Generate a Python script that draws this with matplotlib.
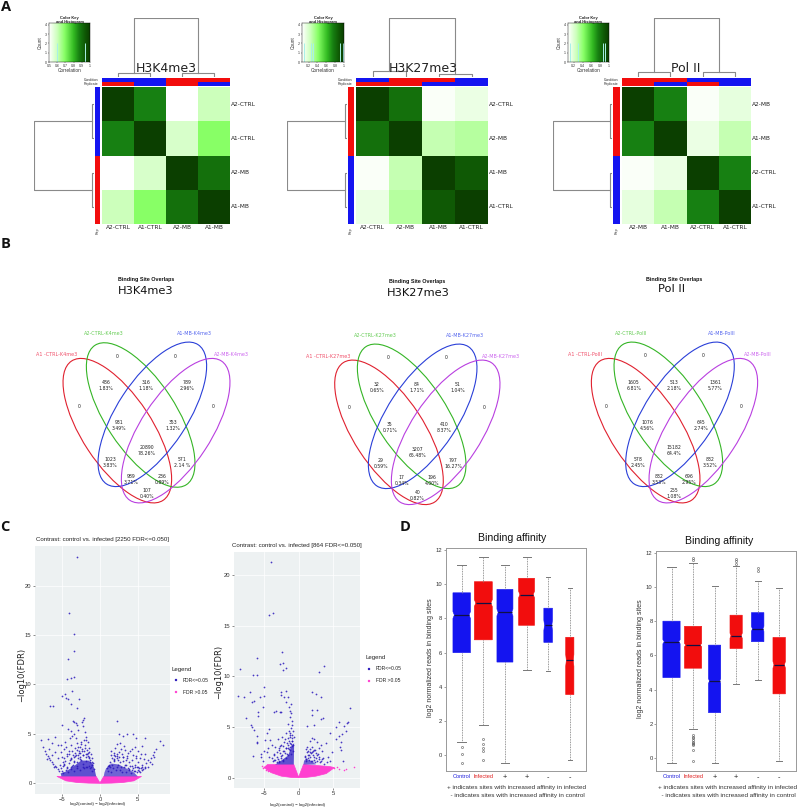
import matplotlib
matplotlib.use("Agg")
import numpy as np
import matplotlib.pyplot as plt
from matplotlib import font_manager as fm
from matplotlib.colors import LinearSegmentedColormap, ListedColormap
from matplotlib.patches import Ellipse

W, H = 798, 808
BLUE, RED = "#1414f0", "#f20d0d"

# ---------- A: heatmaps ----------
heat_names = [
    ["A2-CTRL", "A1-CTRL", "A2-MB", "A1-MB"],
    ["A2-CTRL", "A2-MB", "A1-MB", "A1-CTRL"],
    ["A2-MB", "A1-MB", "A2-CTRL", "A1-CTRL"],
]
heat_h3k4 = [[1.00, 0.87, 0.50, 0.60], [0.87, 1.00, 0.58, 0.69], [0.50, 0.58, 1.00, 0.90], [0.60, 0.69, 0.90, 1.00]]
heat_h3k27 = [[1.00, 0.90, 0.51, 0.54], [0.90, 1.00, 0.61, 0.63], [0.51, 0.61, 1.00, 0.94], [0.54, 0.63, 0.94, 1.00]]
heat_pol2 = [[1.00, 0.87, 0.51, 0.55], [0.87, 1.00, 0.54, 0.61], [0.51, 0.54, 1.00, 0.87], [0.55, 0.61, 0.87, 1.00]]
heat_titles = ["H3K4me3", "H3K27me3", "Pol II"]
col_condition = [[0, 0, 1, 1], [0, 1, 1, 0], [1, 1, 0, 0]]
col_replicate = [[1, 0, 1, 0], [1, 1, 0, 0], [1, 0, 1, 0]]
row_side = [[0, 0, 1, 1], [1, 1, 0, 0], [1, 1, 0, 0]]
dendro_top_root = [1.0, 1.0, 1.0]
dendro_top_left = [0.06, 0.10, 0.08]
dendro_top_right = [0.06, 0.05, 0.08]
dendro_left_root = [1.0, 1.0, 1.0]
dendro_left_inner = [0.03, 0.03, 0.03]
key_lims = [(0.5, 1.0), (0.05, 1.0), (0.07, 1.0)]
key_ticks = [[0.5, 0.6, 0.7, 0.8, 0.9, 1], [0.2, 0.4, 0.6, 0.8, 1], [0.2, 0.4, 0.6, 0.8, 1]]
key_hist = [[0.60, 0.94], [0.10, 0.26, 0.30, 0.92, 0.97], [0.11, 0.29, 0.87, 0.92]]
key_counts = [2, 2, 2]

# ---------- B: venn diagrams ----------
venn_sets = [
    ["A1 -CTRL-K4me3", "A2-CTRL-K4me3", "A1-MB-K4me3", "A2-MB-K4me3"],
    ["A1 -CTRL-K27me3", "A2-CTRL-K27me3", "A1-MB-K27me3", "A2-MB-K27me3"],
    ["A1 -CTRL-PolII", "A2-CTRL-PolII", "A1-MB-PolII", "A2-MB-PolII"],
]
venn_counts = [
    [0, 0, 0, 0, 486, 316, 789, 931, 353, 20890, 1023, 571, 989, 236, 107],
    [0, 0, 0, 0, 32, 84, 51, 35, 410, 3207, 29, 797, 17, 196, 40],
    [0, 0, 0, 0, 1605, 513, 1361, 1076, 645, 15182, 578, 832, 832, 696, 255],
]
venn_pct = [
    ["", "", "", "", "1.83%", "1.18%", "2.96%", "3.49%", "1.32%", "78.26%", "3.83%", "2.14 %", "3.71%", "0.89%", "0.40%"],
    ["", "", "", "", "0.65%", "1.71%", "1.04%", "0.71%", "8.37%", "65.48%", "0.59%", "16.27%", "0.34%", "4.00%", "0.82%"],
    ["", "", "", "", "6.81%", "2.18%", "5.77%", "4.56%", "2.74%", "64.4%", "2.45%", "3.52%", "3.53%", "2.95%", "1.08%"],
]
venn_colors = ["#e0212f", "#35b526", "#2a3fd8", "#b93fe0"]
venn_label_colors = ["#f0506a", "#66cc55", "#5566ee", "#cc66ee"]

# ---------- C: volcano plots ----------
v1_blue_x = [-3.0, -4.05, -3.4, -3.4, -4.2, -3.5, -3.9, -4.4, -3.7, -4.6, -5.0, -4.5, -4.2, -2.8, -3.8, -6.6, -6.2, -3.0,
             -2.1, -2.3, -3.6, -3.4, -3.2, -2.4, 2.3, -5.0, -3.0, -7.8, -7.5, -7.3, -7.1, -6.9, -6.8, -6.6, -6.4, -6.2,
             -6.0, -5.8, -5.6, -5.4, -6.9, -6.3, -6.0, -5.5, -5.2, -5.0, -4.8, -4.6, -4.4, -4.2, -3.8, -3.5, -3.2, -2.9,
             -2.5, -2.2, -2.0, -1.8, -1.6, -1.5, -1.4, -2.0, -2.4, -2.8, -3.3, -3.8, -4.3, -4.9, -4.0, -3.0, -2.6, -1.9,
             -1.7, -1.2, -1.0, -5.6, -5.9, -6.4, -6.7, -7.0, -5.1, -4.7, -4.1, -3.6, -3.1, -2.7, -2.3, -1.3, -0.9, -4.5,
             -3.9, -3.4, -2.1, -5.3, -4.9, -6.1, -2.9, -3.7, -1.6, -1.1,
             2.2, 2.5, 3.0, 3.6, 4.4, 4.8, 6.0, 7.9, 8.3, 7.4, 7.2, 7.0, 6.7, 6.4, 6.1, 5.9, 5.5, 5.1, 4.7, 4.4, 4.0, 3.6,
             3.2, 2.9, 2.5, 2.2, 2.0, 1.8, 5.6, 5.2, 5.0, 4.6, 1.6, 1.3, 1.0, 3.4, 3.9, 4.2, 5.3, 5.8, 2.7, 1.5, 4.9, 6.3,
             3.1, 2.4, 1.9, 1.2, 0.9,
             -5.2, -4.8, -4.6, -4.4, -4.1, -3.9, -3.7, -3.5, -3.3, -3.1, -2.9, -2.7, -2.5, -2.3, -2.1, -1.9, -1.7, -1.5, -1.3, -1.1,
             -5.0, -4.7, -4.3, -4.0, -3.8, -3.6, -3.4, -3.2, -3.0, -2.8, -2.6, -2.4, -2.2, -2.0, -1.8, -1.6, -1.4, -1.2, -1.0, -0.8,
             -4.9, -4.5, -4.2, -3.9, -3.5, -3.1, -2.7, -2.3, -2.1, -1.9, -1.7, -1.5, -1.3, -1.1, -2.5, -2.9, -3.3, -3.7, -4.1, -1.9,
             1.0, 1.3, 1.6, 1.9, 2.2, 2.5, 2.8, 3.1, 3.4, 3.7, 4.0, 4.3, 4.6, 4.9, 5.2, 5.5, 1.2, 1.5, 1.8, 2.1,
             2.4, 2.7, 3.0, 3.3, 3.6, 3.9, 4.2, 4.5, 4.8, 5.1, 5.4, 5.7, 6.0, 1.4, 1.7, 2.0, 2.3, 2.6, 2.9, 3.2,
             3.5, 3.8, 4.1, 4.4, 4.7, 5.0, 5.3, 5.6, 6.6, 6.9, 7.1, 5.9, 3.7, 3.3, 2.8, 2.3, 1.8, 4.3, 4.8, 5.4]
v1_blue_y = [22.9, 17.2, 15.1, 13.4, 12.6, 10.75, 10.65, 10.6, 9.3, 9.0, 8.8, 8.6, 8.5, 8.5, 8.0, 7.85, 7.8, 7.6,
             6.6, 6.4, 6.3, 6.2, 6.1, 6.2, 6.3, 5.9, 5.9, 4.4, 3.7, 3.3, 3.0, 2.8, 2.6, 2.4, 2.2, 2.0,
             1.8, 1.6, 1.4, 1.2, 4.5, 4.1, 4.7, 3.9, 3.2, 2.7, 3.5, 4.2, 3.0, 5.5, 5.3, 5.0, 4.6, 5.4,
             4.2, 5.8, 5.2, 4.7, 4.2, 3.6, 3.2, 3.6, 3.3, 3.1, 3.6, 3.9, 2.8, 2.2, 4.6, 4.1, 3.7, 3.0,
             3.4, 3.0, 2.6, 2.6, 3.2, 2.9, 3.5, 2.5, 3.9, 2.6, 3.3, 2.9, 3.4, 2.7, 2.9, 2.4, 2.1, 3.7,
             2.5, 2.7, 4.4, 1.9, 1.8, 1.7, 2.9, 4.8, 2.8, 2.2,
             4.0, 5.0, 4.8, 5.0, 5.0, 4.6, 4.6, 4.3, 3.9, 3.5, 3.2, 2.9, 2.6, 2.4, 2.1, 3.0, 3.8, 3.3, 3.7, 2.9, 3.3, 2.8,
             3.8, 3.0, 3.2, 2.8, 3.6, 2.9, 1.7, 1.5, 2.2, 1.9, 2.6, 2.2, 1.8, 2.4, 2.2, 2.4, 2.6, 2.5, 4.1, 3.3, 1.7, 1.6,
             2.7, 2.4, 2.5, 1.9, 1.5,
             1.5, 1.9, 2.3, 1.7, 2.1, 2.6, 1.8, 2.3, 2.8, 2.2, 2.6, 3.1, 2.4, 2.9, 3.3, 2.7, 3.0, 2.6, 2.2, 1.9,
             1.2, 2.0, 1.5, 2.4, 1.6, 1.9, 2.2, 2.9, 1.8, 3.3, 2.5, 3.5, 2.0, 3.9, 2.3, 3.1, 2.7, 1.6, 1.9, 1.4,
             1.0, 1.3, 1.1, 1.4, 1.2, 1.5, 1.3, 1.6, 1.5, 1.7, 1.6, 1.8, 1.5, 1.2, 4.0, 3.7, 3.1, 3.3, 3.0, 4.4,
             1.2, 1.6, 1.9, 2.4, 2.6, 2.7, 1.6, 2.3, 1.9, 1.5, 1.8, 1.3, 1.7, 1.1, 1.2, 1.3, 1.8, 1.1, 2.3, 1.3,
             1.9, 1.3, 2.7, 1.9, 2.6, 1.3, 1.8, 1.2, 2.6, 1.3, 1.5, 1.4, 1.7, 2.9, 1.5, 2.8, 1.6, 2.2, 1.1, 1.7,
             1.1, 1.4, 1.0, 1.5, 1.2, 1.6, 1.1, 1.9, 2.2, 2.0, 2.7, 1.5, 3.1, 3.4, 3.5, 3.0, 3.1, 3.5, 2.8, 3.0]
v1_mass_blue_x = [-5.1, -0.5, -0.7, -1.0, -1.5, -2.5, -3.5, -4.5, -5.2]
v1_mass_blue_y = [0.7, 0.7, 1.4, 2.0, 2.3, 2.3, 1.7, 1.2, 1.0]
v1_mass_blue_x2 = [0.5, 5.0, 4.5, 3.5, 2.5, 1.5, 0.8, 0.6]
v1_mass_blue_y2 = [0.7, 0.7, 1.1, 1.5, 1.9, 2.0, 1.5, 1.1]
v1_mass_pink_x = [-5.7, -0.5, -0.2, 0.0, 0.2, 0.5, 5.5, 4.5, 3.0, 1.5, 0.0, -1.5, -3.0, -4.5]
v1_mass_pink_y = [0.7, 0.7, 0.3, 0.05, 0.3, 0.7, 0.7, 0.25, 0.08, 0.02, 0.0, 0.02, 0.08, 0.25]

v2_blue_x = [-4.0, -4.3, -3.7, -2.4, -6.0, -2.7, -2.2, -2.2, -1.9, -8.5, -6.6, -6.0, -5.0, -2.5, -1.9, -2.5, -2.1, -1.5,
             -8.8, -7.9, -7.1, -6.7, -6.4, -5.6, -5.0, -1.8, -1.1, 1.9, 2.5, 3.3, 3.0, 3.75, 7.4, 2.0, 2.7, 1.9, 3.2, 3.6,
             5.9, 7.0, 7.1, 1.2, 2.2, 5.4, 6.6, 4.6, 6.3, 6.9, -7.6, -6.9, -6.7, -6.4, -6.1, -6.1, -6.0, -5.9, -5.9, -5.1,
             -4.3, -4.6, -3.5, -3.3, -2.7, -2.5, -1.4, -1.2, -1.1, -1.3, -1.0, -0.9, -1.5, -1.1, -6.6, -5.5, -5.4, -5.2,
             -5.0, -4.9, -4.6, -4.4, -4.3, -4.1, -3.9, -3.6, -3.4, -3.2, -3.0, -2.8, -2.6, -2.4, -2.2, -2.0, -1.8, -1.7,
             -3.8, -3.5, -3.1, -2.9, -2.7, -2.3, -2.1, -1.9, -1.6, -1.4, -1.3, -1.2, -1.0, -0.8,
             1.0, 1.2, 1.4, 1.6, 1.8, 1.9, 2.0, 2.2, 2.4, 2.6, 2.8, 3.0, 3.2, 3.4, 3.6, 4.0, 4.2, 4.5, 4.9, 5.4, 5.9, 6.0,
             6.1, 6.2, 6.4, 0.9, 1.1, 1.5, 1.7, 2.1, 2.3, 2.5, 2.9, 3.3,
             -3.7, -3.4, -3.0, -2.8, -2.6, -2.4, -2.2, -2.0, -1.8, -1.6, -1.4, -1.2, -1.0, -0.8, -2.5, -2.3, -2.1, -1.9, -1.7, -1.5,
             -1.3, -1.1, -0.9, -0.7, -1.6, -1.4, -1.2, -1.0, -0.8, -1.3, -1.1, -0.9, -2.7, -2.9, -3.2, -3.5,
             0.9, 1.1, 1.3, 1.5, 1.7, 1.9, 2.1, 2.3, 2.5, 2.7, 2.9, 3.1, 3.4, 3.7, 4.1, 1.0, 1.2, 1.4, 1.6, 1.8, 2.0, 2.2, 2.4, 2.6]
v2_blue_y = [21.3, 16.1, 16.3, 12.4, 11.8, 11.2, 11.3, 10.6, 10.8, 10.7, 10.1, 10.1, 9.0, 8.5, 8.6, 8.2, 8.0, 8.0,
             8.1, 8.0, 8.5, 7.5, 7.6, 8.0, 8.1, 7.5, 7.3, 8.5, 8.3, 8.0, 10.4, 11.0, 6.9, 6.7, 6.7, 6.2, 5.8, 5.9,
             5.5, 5.4, 5.5, 5.1, 5.2, 5.0, 5.1, 4.4, 4.3, 4.6, 5.9, 5.2, 5.0, 4.7, 4.1, 3.5, 3.4, 6.5, 6.1, 7.0,
             4.8, 4.4, 6.5, 6.6, 6.5, 6.5, 7.0, 6.6, 6.4, 6.0, 5.6, 5.2, 5.3, 4.9, 2.1, 2.3, 2.0, 1.6,
             2.6, 3.7, 2.5, 2.9, 2.0, 3.7, 3.2, 2.3, 3.0, 2.5, 3.8, 2.7, 3.2, 4.0, 3.1, 3.8, 4.4, 3.4,
             1.9, 2.2, 2.0, 2.9, 2.4, 2.6, 3.5, 2.9, 3.9, 4.6, 4.0, 4.4, 4.2, 4.6,
             2.8, 3.0, 2.6, 3.6, 2.4, 3.9, 3.0, 3.8, 2.7, 3.5, 2.3, 2.9, 3.2, 2.6, 1.9, 3.4, 2.0, 1.6, 2.5, 3.8, 4.1, 3.0,
             3.5, 2.7, 1.6, 2.0, 1.8, 2.2, 2.5, 2.6, 2.0, 1.9, 1.8, 1.6,
             1.6, 1.7, 1.8, 1.5, 1.9, 2.2, 1.7, 2.4, 2.9, 2.2, 2.8, 3.4, 3.1, 2.6, 2.1, 1.6, 2.6, 1.9, 2.3, 2.9,
             2.7, 2.3, 3.6, 4.0, 3.2, 3.6, 3.0, 3.6, 3.2, 4.2, 3.3, 3.9, 3.1, 1.6, 1.5, 1.7,
             2.1, 1.6, 2.2, 1.7, 2.8, 1.6, 2.2, 1.7, 2.4, 1.6, 2.0, 1.5, 1.8, 1.4, 1.5, 1.8, 2.5, 1.9, 2.0, 1.6, 2.5, 2.7, 1.5, 2.2]
v2_pink_x = [-5.3, -5.0, -4.8, -4.6, 5.5, 5.8, 6.6, 6.9, 8.0, 5.2, -4.4, -5.2]
v2_pink_y = [1.2, 1.1, 0.8, 0.9, 1.1, 0.9, 0.8, 0.85, 1.05, 1.0, 0.7, 1.0]
v2_mass_blue_x = [-3.4, -0.7, -0.65, -1.0, -1.5, -2.5]
v2_mass_blue_y = [1.3, 1.3, 3.4, 3.2, 2.2, 1.7]
v2_mass_blue_x2 = [0.7, 2.5, 2.2, 1.2, 0.8]
v2_mass_blue_y2 = [1.3, 1.3, 1.5, 1.8, 1.7]
v2_mass_pink_x = [-4.5, -0.7, -0.3, 0.0, 0.3, 0.7, 4.5, 5.2, 4.0, 2.5, 1.0, 0.0, -1.0, -2.5, -4.0, -5.0]
v2_mass_pink_y = [1.3, 1.3, 0.6, 0.05, 0.6, 1.3, 1.1, 1.0, 0.4, 0.15, 0.02, 0.0, 0.02, 0.15, 0.5, 1.0]
v_titles = ["Contrast: control vs. infected [2250 FDR<=0.050]", "Contrast: control vs. infected [864 FDR<=0.050]"]

# ---------- D: box plots ----------
box_labels = ["Control", "Infected", "+", "+", "-", "-"]
box_colors = [BLUE, RED, BLUE, RED, BLUE, RED]
d1_whislo = [0.8, 1.75, -0.45, 5.0, 4.95, -0.25]
d1_q1 = [6.0, 6.75, 5.45, 7.6, 6.6, 3.55]
d1_med = [8.2, 8.9, 8.35, 9.4, 7.6, 5.55]
d1_q3 = [9.5, 10.15, 9.7, 10.35, 8.6, 6.9]
d1_whishi = [11.15, 11.6, 11.15, 11.6, 10.45, 9.8]
d1_notch = [0.2, 0.2, 0.2, 0.2, 0.3, 0.35]
d1_fliers = [[0.5, 0.1, -0.45], [0.95, 0.65, 0.4, 0.25, -0.25], [], [], [], []]
d1_widths = [0.81, 0.83, 0.74, 0.74, 0.40, 0.38]
d2_whislo = [-0.3, 1.7, -0.3, 4.35, 4.55, -0.2]
d2_q1 = [4.7, 5.25, 2.65, 6.4, 6.8, 3.75]
d2_med = [6.8, 6.6, 4.5, 7.15, 7.55, 5.45]
d2_q3 = [8.0, 7.7, 6.6, 8.35, 8.5, 7.05]
d2_whishi = [11.15, 11.4, 10.05, 11.2, 10.35, 9.95]
d2_notch = [0.12, 0.1, 0.15, 0.15, 0.15, 0.2]
d2_fliers = [[], [1.35, 1.25, 1.15, 1.05, 0.95, 0.85, 0.8, 0.75, 0.45, -0.2, 11.55, 11.7], [], [11.35, 11.5, 11.65], [10.95, 11.1], []]
d2_widths = [0.8, 0.8, 0.57, 0.57, 0.58, 0.58]

plt.rcParams["font.family"] = ["Liberation Sans", "DejaVu Sans"]
installed = {f.name for f in fm.fontManager.ttflist}
NARROW = "Liberation Sans Narrow" if "Liberation Sans Narrow" in installed else "Liberation Sans"
NS = 1.0 if NARROW.endswith("Narrow") else 0.82  # size factor when no condensed face exists
fig = plt.figure(figsize=(W / 100, H / 100), dpi=100)


def axpx(x0, y0, x1, y1, **kw):
    return fig.add_axes([x0 / W, 1 - y1 / H, (x1 - x0) / W, (y1 - y0) / H], **kw)


def tx(x, y, s, **kw):
    kw.setdefault("ha", "center")
    kw.setdefault("va", "center")
    fig.text(x / W, 1 - y / H, s, **kw)


heat_cmap = LinearSegmentedColormap.from_list(
    "heat",
    [(0.0, "#ffffff"), (0.2, "#ccffbb"), (0.38, "#88ff66"), (0.6, "#33bb22"), (0.74, "#178012"), (0.88, "#0f5a05"), (1.0, "#0b3f00")],
)
side_cmap = ListedColormap([BLUE, RED])
GR = "#8a8a8a"


def clean(ax):
    ax.set_xticks([])
    ax.set_yticks([])
    for s in ax.spines.values():
        s.set_visible(False)


panels_heat = [
    dict(cx=(102, 230), side=(94.5, 100), top=(134, 198), lx=34, key=(49, 90), matrix=heat_h3k4, tx=166),
    dict(cx=(356, 488), side=(348, 354), top=(389, 455), lx=287, key=(302, 344), matrix=heat_h3k27, tx=423),
    dict(cx=(622, 751), side=(613, 620), top=(654, 718), lx=553, key=(568, 609), matrix=heat_pol2, tx=686),
]
for i, p in enumerate(panels_heat):
    x0, x1 = p["cx"]
    y0, y1 = 87, 224
    ax = axpx(x0, y0, x1, y1)
    ax.pcolormesh(heat_cmap((np.array(p["matrix"])[::-1] - 0.5) / 0.5))
    clean(ax)
    names = heat_names[i]
    for j, n in enumerate(names):
        ax.text(j + 0.5, -0.09, n, ha="center", va="center", fontsize=4.2, color="#222222", family="DejaVu Sans")
        ax.text(4.04, 3.5 - j, n, ha="left", va="center", fontsize=4.2, color="#222222", family="DejaVu Sans")
    ax = axpx(p["side"][0], y0, p["side"][1], y1)
    ax.pcolormesh([[v] for v in row_side[i][::-1]], cmap=side_cmap, vmin=0, vmax=1)
    clean(ax)
    ax = axpx(x0, 78, x1, 85.7)
    ax.pcolormesh([col_replicate[i], col_condition[i]], cmap=side_cmap, vmin=0, vmax=1)
    clean(ax)
    tx(x0 - 3, 79.8, "Condition", ha="right", fontsize=2.5, color="#333333")
    tx(x0 - 3, 83.8, "Replicate", ha="right", fontsize=2.5, color="#333333")
    tx((p["side"][0] + p["side"][1]) / 2, 230.5, "Rep", rotation=90, fontsize=2.6, color="#333333")
    ax = axpx(x0, 18, x1, 76.5)
    ax.set_xlim(0, 4)
    ax.set_ylim(0, 1)
    clean(ax)
    ax.patch.set_alpha(0)
    hl, hr, root = dendro_top_left[i], dendro_top_right[i], dendro_top_root[i]
    ax.plot([0.5, 0.5, 1.5, 1.5], [0, hl, hl, 0], color=GR, lw=0.8)
    ax.plot([2.5, 2.5, 3.5, 3.5], [0, hr, hr, 0], color=GR, lw=0.8)
    ax.plot([1.0, 1.0, 3.0, 3.0], [hl, root, root, hr], color=GR, lw=0.8)
    ax = axpx(p["lx"], y0, p["side"][0] - 1, y1)
    ax.set_ylim(0, 4)
    ax.set_xlim(1, 0)
    clean(ax)
    ax.patch.set_alpha(0)
    inner, rt = dendro_left_inner[i], dendro_left_root[i]
    ax.plot([0, inner, inner, 0], [0.5, 0.5, 1.5, 1.5], color=GR, lw=0.8)
    ax.plot([0, inner, inner, 0], [2.5, 2.5, 3.5, 3.5], color=GR, lw=0.8)
    ax.plot([inner, rt, rt, inner], [1.0, 1.0, 3.0, 3.0], color=GR, lw=0.8)
    ax = axpx(p["key"][0], 23, p["key"][1], 62)
    xl = key_lims[i]
    ax.imshow([[k / 99 for k in range(100)]], cmap=heat_cmap, aspect="auto", extent=(xl[0], xl[1], 0, 4.2))
    ax.vlines(key_hist[i], 0, key_counts[i], color="#a8f0e8", lw=0.7)
    ax.set_xticks(key_ticks[i])
    ax.set_xticklabels([str(t) for t in key_ticks[i]])
    ax.set_yticks(range(5))
    ax.tick_params(labelsize=2.6, length=1, width=0.3, pad=0.6, colors="#333333")
    for s in ax.spines.values():
        s.set_linewidth(0.3)
    ax.set_xlabel("Correlation", fontsize=3.4, labelpad=-0.2, color="#333333")
    ax.set_ylabel("Count", fontsize=3.4, labelpad=1.4, color="#333333")
    tx(sum(p["key"]) / 2, 20, "Color Key\nand Histogram", fontsize=2.9, fontweight="bold", linespacing=0.95, color="#222222")
    tx(p["tx"], 68, heat_titles[i], fontsize=9, family="DejaVu Sans", color="#222222")

# ---------- venn ----------
venn_geo = [
    dict(off=(0, 260), e=[(352, 512), (422, 465), (457, 463), (527, 512)], title_x=146, head_y=280, ty=290,
         label_xy=[(170, 284), (312, 221), (583, 221), (693, 284)], shift=(0, 0)),
    dict(off=(270, 260), e=[(357, 517), (425, 469), (458, 469), (527, 517)], title_x=147, head_y=282, ty=292,
         label_xy=[(176, 290), (315, 228), (584, 228), (693, 290)], shift=(2, 4)),
    dict(off=(530, 260), e=[(347, 512), (415, 463), (450, 463), (520, 512)], title_x=144, head_y=280, ty=288,
         label_xy=[(165, 283), (305, 221), (575, 220), (684, 283)], shift=(-7, -1)),
]
region_xy = [(237, 439), (352, 289), (526, 289), (640, 439), (318, 377), (438, 378), (562, 377), (358, 497), (520, 497),
             (440, 572), (330, 608), (547, 608), (393, 658), (485, 658), (440, 702)]
vax = axpx(0, 0, W, H)
vax.set_xlim(0, W)
vax.set_ylim(H, 0)
vax.axis("off")
vax.patch.set_alpha(0)
for i, g in enumerate(venn_geo):
    ox, oy = g["off"]
    for k, (cx, cy) in enumerate(g["e"]):
        ang = 56.7 if k in (0, 1) else -56.7
        vax.add_patch(Ellipse((ox + cx / 3, oy + cy / 3), 500 / 3, 210 / 3, angle=ang, fill=False,
                              edgecolor=venn_colors[k], lw=0.8))
        lx, ly = g["label_xy"][k]
        tx(ox + lx / 3, oy + ly / 3, venn_sets[i][k], fontsize=3.5, color=venn_label_colors[k], family="DejaVu Sans")
    for (rx, ry), c, pc in zip(region_xy, venn_counts[i], venn_pct[i]):
        rx2, ry2 = rx + g["shift"][0], ry + g["shift"][1]
        label = f"{c}\n{pc}" if pc else f"{c}"
        tx(ox + rx2 / 3, oy + ry2 / 3, label, fontsize=3.3, linespacing=1.25, color="#222222", family="DejaVu Sans")
    tx(ox + g["title_x"], g["head_y"], "Binding Site Overlaps", fontsize=3.9, fontweight="bold", color="#111111")
    tx(ox + g["title_x"] + (1 if i == 1 else (-2 if i == 2 else 0)), g["ty"] + 1, heat_titles[i], fontsize=8.2,
       family="DejaVu Sans", color="#111111")


# ---------- volcano ----------
def volcano(rect, xlim, ylim, bx, by, masses, pink, title, title_xy, xl_xy, yl_xy, leg_xy):
    ax = axpx(*rect)
    ax.set_facecolor("#edf1f2")
    ax.set_xlim(*xlim)
    ax.set_ylim(*ylim)
    ax.grid(True, color="white", lw=0.5)
    ax.set_axisbelow(True)
    for s in ax.spines.values():
        s.set_visible(False)
    ax.set_xticks([-5, 0, 5])
    ax.set_yticks([0, 5, 10, 15, 20])
    ax.tick_params(labelsize=4.2, length=1.5, width=0.4, pad=1, colors="#333333")
    (bm1x, bm1y), (bm2x, bm2y), (pmx, pmy) = masses
    ax.fill(pmx, pmy, color="#ff3fd0", lw=0.5, zorder=2)
    ax.fill(bm1x, bm1y, color="#3a28c8", alpha=0.8, lw=0, zorder=2)
    ax.fill(bm2x, bm2y, color="#3a28c8", alpha=0.7, lw=0, zorder=2)
    ax.scatter(bx, by, s=1.6, color="#2a18bb", alpha=0.85, lw=0, zorder=3)
    if pink:
        ax.scatter(pink[0], pink[1], s=1.3, color="#ff3fd0", lw=0, zorder=3)
    tx(*title_xy, title, fontsize=5.4 * NS, family=NARROW, color="#222222")
    tx(*xl_xy, "log2(control) \u2212 log2(infected)", fontsize=3.8 * NS, family=NARROW, color="#222222")
    tx(*yl_xy, "\u2212log10(FDR)", fontsize=6, rotation=90, color="#222222", family="DejaVu Sans")
    lx, ly = leg_xy
    tx(lx, ly, "Legend", fontsize=5.4 * NS, family=NARROW, ha="left", color="#222222")
    vax.scatter([lx + 4, lx + 4], [ly + 11, ly + 23], s=[3, 3], color=["#2a18bb", "#ff3fd0"], lw=0)
    tx(lx + 11, ly + 11, "FDR<=0.05", fontsize=4.4 * NS, family=NARROW, ha="left", color="#222222")
    tx(lx + 11, ly + 23, "FDR >0.05", fontsize=4.4 * NS, family=NARROW, ha="left", color="#222222")


volcano((35, 546, 170, 794), (-8.6, 9.27), (-1.08, 24.0), v1_blue_x, v1_blue_y,
        [(v1_mass_blue_x, v1_mass_blue_y), (v1_mass_blue_x2, v1_mass_blue_y2), (v1_mass_pink_x, v1_mass_pink_y)], None,
        v_titles[0], (102, 539), (98, 804), (22, 675), (172, 669))
volcano((234, 552, 360, 788), (-9.37, 8.9), (-1.02, 22.3), v2_blue_x, v2_blue_y,
        [(v2_mass_blue_x, v2_mass_blue_y), (v2_mass_blue_x2, v2_mass_blue_y2), (v2_mass_pink_x, v2_mass_pink_y)],
        (v2_pink_x, v2_pink_y), v_titles[1], (297, 545), (297, 805), (219, 672), (365, 658))


# ---------- box plots ----------
def boxes(rect, xlim, ylim, wl, q1, med, q3, wh, notch, fl, widths, title_xy, yl_x, note_x, note_y):
    ax = axpx(*rect)
    stats = [dict(whislo=a, q1=b, med=c, q3=d, whishi=e, cilo=c - n, cihi=c + n, fliers=f)
             for a, b, c, d, e, n, f in zip(wl, q1, med, q3, wh, notch, fl)]
    pos = list(range(1, 7))
    art = ax.bxp(stats, positions=pos, widths=widths, shownotches=True, patch_artist=True,
                 whiskerprops=dict(color="#777777", lw=0.6, ls=(0, (1, 1))),
                 capprops=dict(color="#777777", lw=0.7),
                 medianprops=dict(color="#111144", lw=0.9),
                 flierprops=dict(marker="o", ms=1.5, mfc="none", mec="#555555", mew=0.4))
    for k, (b, c) in enumerate(zip(art["boxes"], box_colors)):
        b.set_facecolor(c)
        b.set_edgecolor(c)
        b.set_linewidth(0.4)
        v = b.get_path().vertices
        hw = widths[k] * 0.42
        v[3, 0] = pos[k] + hw
        v[8, 0] = pos[k] - hw
        art["medians"][k].set_xdata([pos[k] - hw, pos[k] + hw])
    ax.set_xlim(*xlim)
    ax.set_ylim(*ylim)
    ax.set_yticks([0, 2, 4, 6, 8, 10, 12])
    ax.set_xticks(pos)
    ax.set_xticklabels(box_labels)
    label_colors = ["#2222dd", "#e02020", "#222222", "#222222", "#222222", "#222222"]
    label_sizes = [5.0, 5.0, 6.5, 6.5, 6.5, 6.5]
    ax.tick_params(axis="y", labelsize=5.2 * NS, length=1.5, width=0.5, pad=1, labelcolor="#333333", color="#777777")
    ax.tick_params(axis="x", length=0, pad=2.5)
    for t, c, sz in zip(ax.get_xticklabels(), label_colors, label_sizes):
        t.set_color(c)
        t.set_fontsize(sz * NS)
    for lbl in ax.get_xticklabels() + ax.get_yticklabels():
        lbl.set_family(NARROW)
    for s in ax.spines.values():
        s.set_color("#999999")
        s.set_linewidth(0.7)
    tx(*title_xy, "Binding affinity", fontsize=9.2 * NS, family=NARROW, color="#111111")
    tx(yl_x, (rect[1] + rect[3]) / 2 - 2, "log2 normalized reads in binding sites", fontsize=6.2 * NS, rotation=90,
       family=NARROW, color="#333333")
    tx(note_x, note_y, "+ indicates sites with increased affinity in infected", fontsize=5.6 * NS, ha="left",
       family=NARROW, color="#333333")
    tx(note_x, note_y + 8.3, "  - indicates sites with increased affinity in control", fontsize=5.6 * NS, ha="left",
       family=NARROW, color="#333333")


boxes((445.7, 548, 586, 771), (0.26, 6.75), (-0.92, 12.12), d1_whislo, d1_q1, d1_med, d1_q3, d1_whishi, d1_notch,
      d1_fliers, d1_widths, (512, 538), 431, 447, 787)
boxes((656, 550.7, 796, 771), (0.28, 6.78), (-0.76, 12.12), d2_whislo, d2_q1, d2_med, d2_q3, d2_whishi, d2_notch,
      d2_fliers, d2_widths, (719, 541), 641, 658, 787)

# panel letters
for s, x, y in [("A", 6, 7), ("B", 6, 244), ("C", 5, 527), ("D", 405, 527)]:
    tx(x, y, s, fontsize=10.5, fontweight="bold", family="Open Sans", color="#111111")

fig.savefig("out.png", dpi=100)
